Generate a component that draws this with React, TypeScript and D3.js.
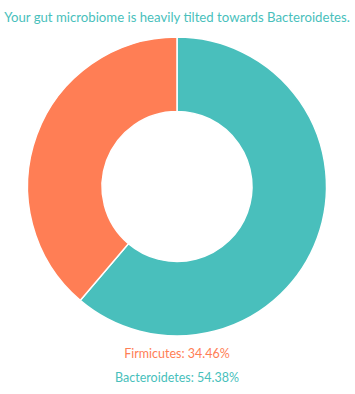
import React, { useEffect, useMemo } from "react";
import * as d3 from "d3";

const labels = ["Bacteroidetes", "Firmicutes"];
const values = [54.38, 34.46];
const colors = ["#49BFBC", "#FF7E55"];
const legendOrder = ["Firmicutes", "Bacteroidetes"];
const title = "Your gut microbiome is heavily tilted towards Bacteroidetes.";

const W = 355;
const H = 394;

export default function App() {
  useEffect(() => {
    document.body.style.margin = "0";
  }, []);

  const arcs = useMemo(() => {
    const pie = d3
      .pie<number>()
      .sort(null)
      .value((d) => d);
    const arc = d3.arc<d3.PieArcDatum<number>>().innerRadius(75).outerRadius(149.5);
    return pie(values).map((a, i) => ({ d: arc(a) || "", color: colors[i], key: labels[i] }));
  }, []);

  const cx = 177;
  const cy = 186.5;

  return (
    <svg width={W} height={H} style={{ display: "block", fontFamily: "Lato, sans-serif" }}>
      <text x={177} y={22} textAnchor="middle" fontSize={13.2} fill="#49BFBC">
        {title}
      </text>

      <g transform={`translate(${cx},${cy})`}>
        {arcs.map((a) => (
          <path key={a.key} d={a.d} fill={a.color} stroke="#fff" strokeWidth={1.5} />
        ))}
      </g>

      {/* Legend */}
      {legendOrder.map((name, i) => {
        const idx = labels.indexOf(name);
        return (
          <text key={name} x={177} y={358 + i * 24} textAnchor="middle" fontSize={12.5} fill={colors[idx]}>
            {`${name}: ${values[idx].toFixed(2)}%`}
          </text>
        );
      })}
    </svg>
  );
}
